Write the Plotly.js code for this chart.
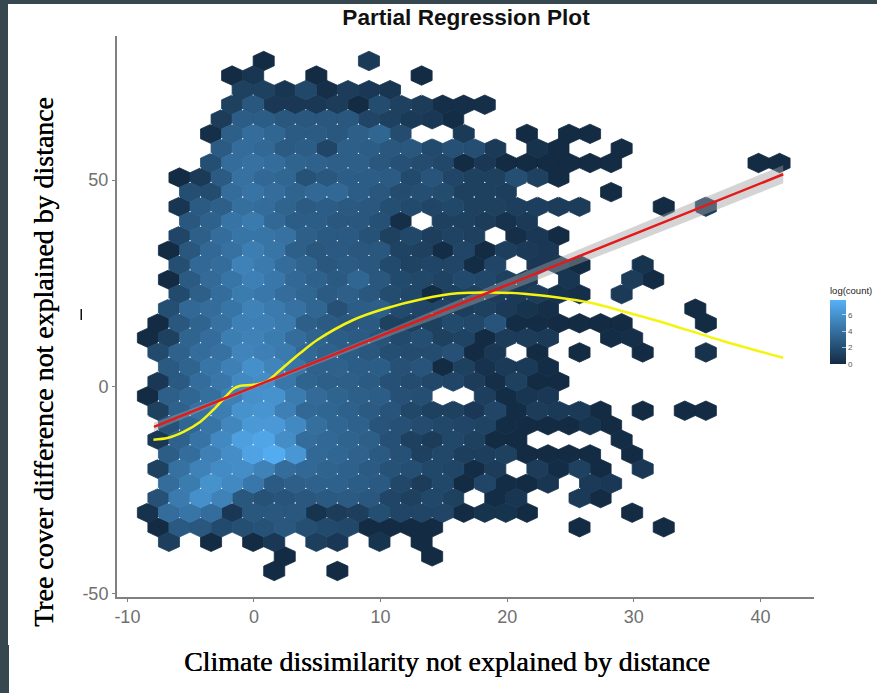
<!DOCTYPE html>
<html><head><meta charset="utf-8">
<script src="https://cdn.plot.ly/plotly-3.0.1.min.js"></script>
<style>html,body{margin:0;padding:0;background:#fff;overflow:hidden}#chart{width:877px;height:693px}</style>
</head><body><div id="chart"></div>
<script>
// hex grid
const gridX0 = 0.766, gridDX = 1.663, gridYTop = 78.8, gridDY = 3.525;
// first column of each row (row 0 is the top row, odd rows are offset half a cell)
const rowStart = [0,-2,-1,-2,-2,-3,-2,-3,-4,-4,-4,-4,-4,-5,-4,-5,-4,-5,-5,-6,-5,-5,-5,-6,-5,-5,-5,-5,-5,-5,-5,-6,-5,-5,1,0];
// shade of each cell as read by eye, null = empty cell
const _ = null;
const rowShade = [
[0,_,_,_,_,.7],
[0,.5,_,_,0,_,_,_,_,0],
[1,1,.5,1.3,.2,.8,.6,.5],
[1,2,.6,.6,.6,.8,0,1.5,1,.8,.2,.2,.2],
[.8,2.3,2.3,2,2,2,2,1.2,1,.7,.6,.1],
[.2,2.4,3,2.7,2.2,2.2,2,2.4,2.7,1.5,_,_,.7,_,_,0,_,0,0],
[2.2,3,2.8,2.2,2.3,1.2,2.4,2.3,2,2,1.4,1.7,1.6,.7,_,.3,0,_,_,0],
[1.6,3,3.2,3,2.6,2.5,2.4,2.4,2,1.7,1.5,1.3,0,.6,0,0,0,0,0,0,_,_,_,_,_,_,0,0],
[0,.7,2.2,3.2,2.8,2.7,1.8,2,2.3,2.3,2.2,1.4,1.9,1.2,1,1,1.6,1,0],
[1.6,1.5,3,3.3,3,2.6,2.8,2.8,2.3,2,1.5,1.6,1.5,1,1,.9,_,_,_,_,0],
[.5,2.2,2.4,3.1,3,2.6,2.2,2.3,2.1,2,1.6,1.4,1.2,1.3,1,1,.9,.9,.8,.8,_,_,_,0,_,.7],
[2,2.5,3.3,3.6,2.8,2.3,2.3,2,2,1.7,.2,_,1,1,.8,.3,.7],
[1.2,2.4,3,3.4,3.4,3.2,2.4,2.1,2.1,1.8,1,1.3,.9,1.1,1,_,.2,.6,0],
[0,2,2.8,3.2,3.8,3.4,2.4,2,2.1,2,2,1.1,1,.1,1.2,0,.9,.7,.6],
[1.6,2.8,3,4,3.6,3,2.6,2,2.2,2,1.4,1.1,1.2,1.2,.1,1.2,_,.6,.5,0,_,_,.4],
[0,2.2,2.9,3.4,3.9,3.5,2.8,2.5,2.1,2.7,2,1.4,1.3,1.1,1.4,1.3,1,.7,_,.5,_,_,.8,0],
[1.4,2.4,3,3.7,3.5,3,2.7,2.2,2.4,2,1.5,1.3,0,1,1,.8,.7,.8,.3,.2,_,.7],
[1.6,2.8,3,3.4,4,3.6,3.2,2.7,1.7,2.3,2.4,1.4,1.2,1.2,.9,1,.7,.4,.2,_,_,_,_,_,_,0],
[0,2,2.6,3.2,3.9,3.9,3.6,2.4,2.2,2,2.1,1,1,1,1.4,1.3,1.9,.1,.1,0,0,0,0,_,_,_,0],
[0,1,2.6,3,3.8,4,3.7,3,2.6,2.3,2.2,1.9,1.4,1.6,1,1.1,0,.8,.8,.7,_,_,.1,.2],
[1.4,2.5,3,3.2,4.1,3.9,3.6,2.8,2.5,2.3,2,1.6,1.5,1.5,1.7,0,.6,_,0,_,0,_,_,0,_,_,.3],
[2.1,2.6,3.4,3.9,4.6,4.1,3.4,2.5,2.5,2.3,2.3,1.7,1.9,0,1,.3,.7,.7,.1],
[.6,2.1,3,3.5,4.3,4.5,3.5,2.6,2.4,2.4,2.2,1.7,1.5,1.3,1.2,.8,.2,1,0,0],
[0,2.4,2.7,3.1,3.9,4.6,4.7,3.7,2.9,2.6,2.4,2.3,1.7,1.6,_,_,.9,.1,.5,.6],
[1,2.5,3.2,3.8,4.7,4.8,3.9,2.8,2.7,2.5,2.2,1.9,1.3,1,1,.6,1.2,.1,.8,.7,.7,0,_,0,_,0,0],
[1.8,2.7,3.4,4.2,5,5,4.3,3.1,2.7,2.5,1.9,1.7,1.5,1.3,1.2,1.1,.1,0,0,0,.4,0],
[.6,2.5,3.3,4.3,5.3,5.6,4.5,3,2.8,2.6,2.4,1.7,1,.8,1.3,1,0,0,_,_,_,_,.1],
[2.3,3,3.9,4.5,5.5,5.9,4.9,2.8,2.7,2.5,2.1,1.7,1,1.3,.9,.9,1,0,0,0,0,_,0],
[1,3.2,4,4.4,4.5,4,3,2.8,2.6,2.5,2.2,1.8,1.6,1.3,1.2,.1,.8,_,.8,.1,1,0,_,.6],
[3,3.7,4.7,4.3,3.5,2.2,2.4,2.5,2.5,2.3,2.1,1.3,.8,1.3,0,1.2,.1,0,.5,_,.7,.6],
[1.7,3.6,4.6,4,2,1.8,1.9,2,2.1,2.2,2,1.2,1,1.3,1,_,.1,.5,_,_,.7,0],
[.3,3,3.4,3,.6,2,2,2,.4,.8,.9,1.6,1.2,1.2,1.2,0,.4,.4,0,_,_,_,_,0],
[0,2.1,2,1.4,1.6,1.8,2,1.6,1.4,1.3,0,0,0,0,_,_,_,_,_,_,0,_,_,_,0],
[.9,_,0,_,0,.6,_,.9,.6,_,.4,_,0],
[0,_,_,_,_,_,_,0],
[0,_,_,0]
];
const shadeToLog = 1.27, logMax = 7.8;
const logLow = [0x13,0x2B,0x43], logHigh = [0x56,0xB1,0xF7];

// linear fit
const fitX = [-7.9, 0, 10, 20, 30, 41.8];
const fitY = [-9.7, -0.1, 12.2, 24.5, 36.8, 51.4];
const fitSE = [1.0, 0.4, 0.8, 1.5, 1.9, 2.2];
// smooth curve
const curveX = [-7.94,-6.84,-5.57,-4.23,-3.2,-2.25,-1.62,-1.07,-.04,1.07,2.1,3.68,5.02,7.87,10.24,13.4,16.1,18.7,21.3,24,26.6,29.2,31.9,36.9,41.8];
const curveY = [-12.8,-12.4,-10.9,-8.45,-5.56,-2.4,-.5,.24,.48,1.45,4.1,8.2,11.35,16.2,18.8,21.3,22.6,22.8,22.5,21.6,20.3,18.2,15.9,11.2,7];

const xTicks = [-10,0,10,20,30,40], xLabels = ['-10','0','10','20','30','40'];
const yTicks = [-50,0,50], yLabels = ['-50','0','50'];
const barTicks = [0,2,4,6];

const W = 877, H = 693, aL = 117, aR = 814, aT = 36, aB = 596.7;
const px = v => v/W, py = v => 1-v/H;

function shadeColor(v){
  const t = Math.min(1, v*shadeToLog/logMax);
  const c = logLow.map((a,i)=>Math.round(a+(logHigh[i]-a)*t));
  return 'rgb('+c.join(',')+')';
}
const groups = {}, cx = [], cy = [], cv = [], sx = [], sy = [];
const hh = gridDY*2/3, hw = gridDX/2;
rowShade.forEach((row,r)=>{
  const y = gridYTop - r*gridDY;
  row.forEach((v,i)=>{
    if(v===null) return;
    const x = gridX0 + gridDX*(rowStart[r]+i+(r%2?0.5:0));
    const g = groups[v] || (groups[v] = {x:[],y:[]});
    g.x.push(x,x+hw,x+hw,x,x-hw,x-hw,x,null);
    g.y.push(y+hh,y+hh/2,y-hh/2,y-hh,y-hh/2,y+hh/2,y+hh,null);
    cx.push(x); cy.push(y); cv.push(v*shadeToLog);
    if(v>=.7 && r>2 && r<32){ sx.push(x,x-hw); sy.push(y+hh,y-hh/2); }
  });
});
const traces = Object.keys(groups).sort((a,b)=>a-b).map(k=>({
  type:'scatter',mode:'lines',x:groups[k].x,y:groups[k].y,fill:'toself',
  fillcolor:shadeColor(+k),line:{color:shadeColor(+k),width:0.8},hoverinfo:'skip',showlegend:false,connectgaps:false
}));
traces.push({type:'scatter',mode:'markers',x:cx,y:cy,showlegend:false,hovertemplate:'log(count) %{marker.color:.1f}<extra></extra>',
  marker:{size:2,color:cv,cmin:0,cmax:logMax,colorscale:[[0,'#132B43'],[1,'#56B1F7']],showscale:true,line:{width:0},
    colorbar:{x:px(830),xanchor:'left',xpad:0,y:py(324),yanchor:'middle',ypad:0,lenmode:'pixels',len:80,thicknessmode:'pixels',thickness:16,
      outlinewidth:0,tickvals:barTicks,ticktext:barTicks.map(String),ticks:'inside',ticklen:4,tickcolor:'rgba(255,255,255,0.6)',
      tickfont:{family:'Liberation Sans',size:8,color:'#555'},title:{text:'log(count)',side:'top',font:{family:'Liberation Sans',size:9.5,color:'#222'}}}}});
// vertex specks seen in the reference
traces.push({type:'scatter',mode:'markers',x:sx,y:sy,marker:{size:1.3,color:'rgba(255,255,255,0.75)',line:{width:0}},hoverinfo:'skip',showlegend:false});
// ribbon
const bandX = fitX.concat(fitX.slice().reverse());
const bandY = fitY.map((v,i)=>v+fitSE[i]).concat(fitY.map((v,i)=>v-fitSE[i]).reverse());
traces.push({type:'scatter',mode:'lines',x:bandX,y:bandY,fill:'toself',fillcolor:'rgba(160,160,160,0.45)',line:{width:0},hoverinfo:'skip',showlegend:false});
traces.push({type:'scatter',mode:'lines',x:curveX,y:curveY,line:{color:'#f4f410',width:2.5,shape:'spline',smoothing:0.8},showlegend:false,name:'smooth'});
traces.push({type:'scatter',mode:'lines',x:[fitX[0],fitX[5]],y:[fitY[0],fitY[5]],line:{color:'#e3191c',width:2.5},showlegend:false,name:'linear fit'});

const axisBase = {showgrid:false,zeroline:false,showline:true,linecolor:'#808080',linewidth:2,ticks:'outside',ticklen:3,tickwidth:1,tickcolor:'#808080',
  tickfont:{family:'Liberation Sans',size:18,color:'#707070'},tickmode:'array',automargin:false};
const titleShadow = '0.5px 0 0 #000';
const layout = {
  width:W,height:H,margin:{l:0,r:0,t:0,b:0,pad:0},paper_bgcolor:'#fff',plot_bgcolor:'#fff',showlegend:false,
  title:{text:'Partial Regression Plot',x:466/W,xanchor:'center',y:1-17/H,yanchor:'middle',font:{family:'Liberation Sans',size:22.6,color:'#111',weight:700}},
  xaxis:Object.assign({},axisBase,{domain:[aL/W,aR/W],range:[-10.82,44.23],tickvals:xTicks,ticktext:xLabels}),
  yaxis:Object.assign({},axisBase,{domain:[1-aB/H,1-aT/H],range:[-50.8,84.85],tickvals:yTicks,ticktext:yLabels}),
  annotations:[
    {text:'Climate dissimilarity not explained by distance',xref:'paper',yref:'paper',x:px(447),y:py(661),xanchor:'center',yanchor:'middle',showarrow:false,
     font:{family:'Liberation Serif',size:27.9,color:'#000',shadow:titleShadow}},
    {text:'Tree cover difference not explained by distance',xref:'paper',yref:'paper',x:px(43),y:py(362),xanchor:'center',yanchor:'middle',textangle:-90,showarrow:false,
     font:{family:'Liberation Serif',size:27.9,color:'#000',shadow:titleShadow}}
  ],
  shapes:[
    {type:'rect',xref:'paper',yref:'paper',x0:0,x1:1,y0:py(0),y1:py(4),fillcolor:'#37474f',line:{width:0}},
    {type:'rect',xref:'paper',yref:'paper',x0:0,x1:px(8),y0:py(0),y1:py(645),fillcolor:'#37474f',line:{width:0}},
    {type:'rect',xref:'paper',yref:'paper',x0:0,x1:px(9),y0:py(645),y1:py(H),fillcolor:'#37474f',line:{width:0}},
    {type:'rect',xref:'paper',yref:'paper',x0:px(80.5),x1:px(82),y0:py(309),y1:py(320),fillcolor:'#111',line:{width:0}}
  ]
};
Plotly.newPlot('chart',traces,layout,{displayModeBar:false,responsive:false});
</script></body></html>
